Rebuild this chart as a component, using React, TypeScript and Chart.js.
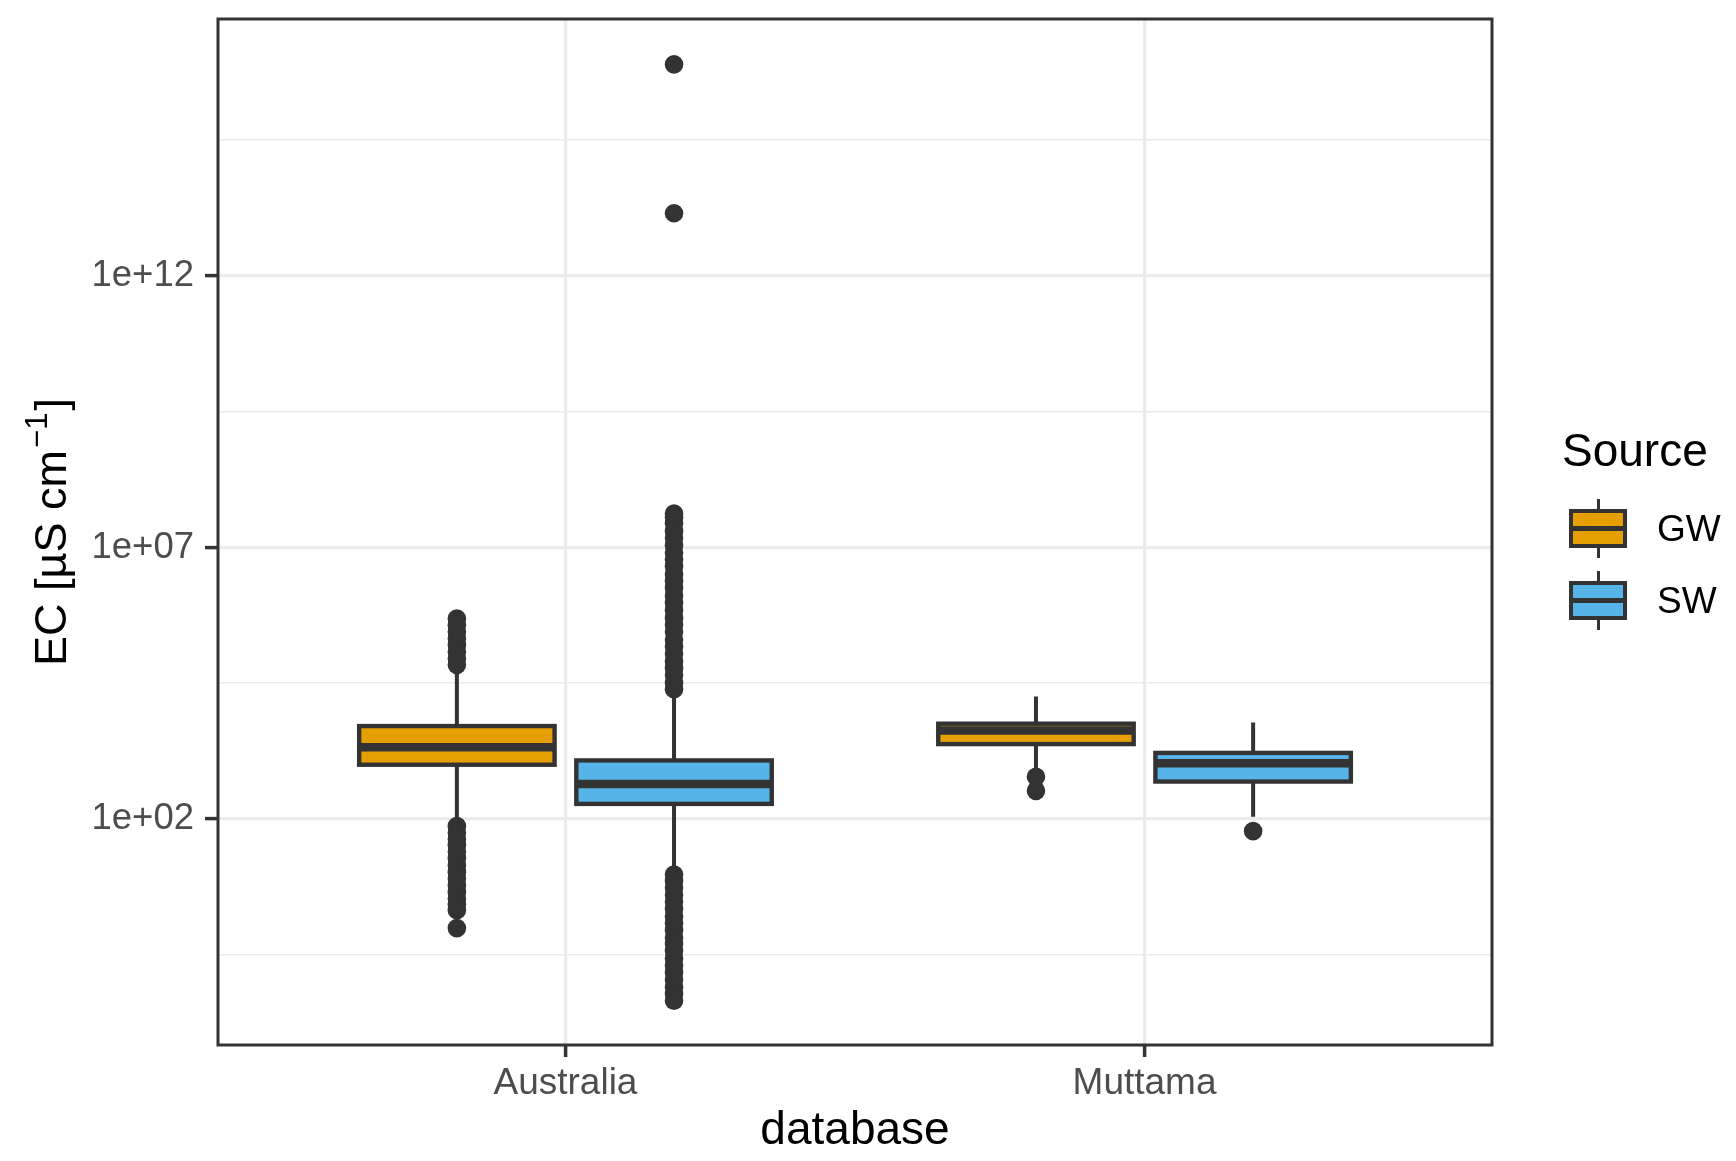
import React, { useEffect, useRef } from 'react';
import { Chart, registerables } from 'chart.js';

Chart.register(...registerables);

const FONT = '"Liberation Sans", Arial, Helvetica, sans-serif';

// ---------------- data ----------------
const categories = ['Australia', 'Muttama'];
const sourceNames = ['GW', 'SW'];
const sourceColors = ['#E69F00', '#56B4E9'];

// GW box statistics (per category)
const gwWhiskerLow = [100, 800];
const gwQ1 = [1000, 2400];
const gwMedian = [2100, 4250];
const gwQ3 = [5150, 5700];
const gwWhiskerHigh = [50000, 18000];

// SW box statistics (per category)
const swWhiskerLow = [12, 110];
const swQ1 = [190, 490];
const swMedian = [440, 1070];
const swQ3 = [1200, 1650];
const swWhiskerHigh = [20000, 6000];

// outliers
const gwOutliersAustralia = [
  69000, 90000, 120000, 160000, 210000, 280000, 370000, 490000,
  74, 56, 43, 33, 25, 19, 14, 10.5, 8, 6, 4.5, 3.4, 2.7, 2.1, 0.98,
];
const gwOutliersMuttama = [600, 330];
const swOutliersAustralia = [
  24500, 32000, 45000, 60000, 80000, 110000, 150000, 200000, 280000, 380000,
  500000, 700000, 950000, 1300000, 1800000, 2400000, 3200000, 4500000, 6000000,
  8000000, 11000000, 15000000, 20000000, 28000000, 36000000, 42000000,
  14300000000000, 7900000000000000,
  9.5, 7.2, 5.4, 4, 3, 2.2, 1.6, 1.2, 0.9, 0.65, 0.5, 0.37, 0.27, 0.2, 0.15,
  0.11, 0.08, 0.06, 0.045,
];
const swOutliersMuttama = [60];

// y axis ticks
const yMajorTicks = [1e2, 1e7, 1e12];
const yMajorLabels = ['1e+02', '1e+07', '1e+12'];
const yMinorTicks = [0.3162, 31623, 3.162e9, 3.162e14];

// ---------------- layout constants ----------------
const DODGE = 0.1875;
const HALF_BOX = 0.16875;

const boxGroups = [
  { color: sourceColors[0], offset: -DODGE, low: gwWhiskerLow, q1: gwQ1, med: gwMedian, q3: gwQ3, high: gwWhiskerHigh },
  { color: sourceColors[1], offset: DODGE, low: swWhiskerLow, q1: swQ1, med: swMedian, q3: swQ3, high: swWhiskerHigh },
];

const outlierGroups = [
  { cat: 0, offset: -DODGE, values: gwOutliersAustralia },
  { cat: 1, offset: -DODGE, values: gwOutliersMuttama },
  { cat: 0, offset: DODGE, values: swOutliersAustralia },
  { cat: 1, offset: DODGE, values: swOutliersMuttama },
];

const boxPlugin = {
  id: 'boxes',
  afterDatasetsDraw(chart: any) {
    const { ctx } = chart;
    const x = chart.scales.x;
    const y = chart.scales.y;
    ctx.save();
    ctx.strokeStyle = '#333333';
    ctx.lineCap = 'butt';
    boxGroups.forEach((g) => {
      categories.forEach((_, i) => {
        const c = i + 1 + g.offset;
        const cx = x.getPixelForValue(c);
        const left = x.getPixelForValue(c - HALF_BOX);
        const right = x.getPixelForValue(c + HALF_BOX);
        const yLow = y.getPixelForValue(g.low[i]);
        const yQ1 = y.getPixelForValue(g.q1[i]);
        const yMed = y.getPixelForValue(g.med[i]);
        const yQ3 = y.getPixelForValue(g.q3[i]);
        const yHigh = y.getPixelForValue(g.high[i]);
        ctx.lineWidth = 4;
        ctx.beginPath();
        ctx.moveTo(cx, yHigh);
        ctx.lineTo(cx, yQ3);
        ctx.moveTo(cx, yQ1);
        ctx.lineTo(cx, yLow);
        ctx.stroke();
        ctx.fillStyle = g.color;
        ctx.fillRect(left, yQ3, right - left, yQ1 - yQ3);
        ctx.lineWidth = 4.4;
        ctx.strokeRect(left, yQ3, right - left, yQ1 - yQ3);
        ctx.lineWidth = 8.5;
        ctx.beginPath();
        ctx.moveTo(left, yMed);
        ctx.lineTo(right, yMed);
        ctx.stroke();
      });
    });
    ctx.restore();
  },
};

const frameAndTitlePlugin = {
  id: 'frameAndTitle',
  afterDraw(chart: any) {
    const { ctx, chartArea } = chart;
    ctx.save();
    ctx.strokeStyle = '#333333';
    ctx.lineWidth = 3;
    ctx.strokeRect(chartArea.left, chartArea.top, chartArea.right - chartArea.left, chartArea.bottom - chartArea.top);

    // y axis title with superscript
    const mainFont = `45px ${FONT}`;
    const supFont = `31px ${FONT}`;
    const part1 = 'EC [µS cm';
    const sup = '\u22121';
    const part3 = ']';
    ctx.font = mainFont;
    const w1 = ctx.measureText(part1).width;
    const w3 = ctx.measureText(part3).width;
    ctx.font = supFont;
    const w2 = ctx.measureText(sup).width + 4;
    const total = w1 + w2 + w3;
    const cy = (chartArea.top + chartArea.bottom) / 2;
    ctx.translate(66, cy + total / 2);
    ctx.rotate(-Math.PI / 2);
    ctx.fillStyle = '#000000';
    ctx.textBaseline = 'alphabetic';
    ctx.textAlign = 'left';
    ctx.font = mainFont;
    ctx.fillText(part1, 0, 0);
    ctx.font = supFont;
    ctx.fillText(sup, w1 + 2, -19);
    ctx.font = mainFont;
    ctx.fillText(part3, w1 + w2, 0);
    ctx.restore();
  },
};

export default function App() {
  const canvasRef = useRef<HTMLCanvasElement>(null);

  useEffect(() => {
    const canvas = canvasRef.current;
    if (!canvas) return;
    const datasets = outlierGroups.map((g) => ({
      type: 'scatter' as const,
      data: g.values.map((v) => ({ x: g.cat + 1 + g.offset, y: v })),
      pointRadius: 9.3,
      pointHoverRadius: 9.3,
      backgroundColor: '#333333',
      borderWidth: 0,
    }));

    const chart = new Chart(canvas, {
      type: 'scatter',
      data: { datasets },
      plugins: [boxPlugin, frameAndTitlePlugin],
      options: {
        animation: false,
        responsive: false,
        devicePixelRatio: 1,
        events: [],
        layout: { padding: { top: 19, right: 244, bottom: 0, left: 0 } },
        plugins: { legend: { display: false }, tooltip: { enabled: false } },
        scales: {
          x: {
            type: 'linear',
            min: 0.4,
            max: 2.6,
            afterBuildTicks: (scale: any) => {
              scale.ticks = categories.map((_, i) => ({ value: i + 1 }));
            },
            afterFit: (scale: any) => {
              scale.height = 116;
              scale.paddingLeft = 0;
              scale.paddingRight = 0;
            },
            ticks: {
              autoSkip: false,
              maxRotation: 0,
              padding: 5,
              color: '#4D4D4D',
              font: { family: FONT, size: 37, lineHeight: 1.2 },
              callback: (v: any) => categories[Math.round(Number(v)) - 1] ?? '',
            },
            grid: {
              color: '#EBEBEB',
              lineWidth: 3.2,
              tickLength: 12,
              tickColor: '#333333',
              tickWidth: 3.5,
            },
            border: { display: false },
            title: {
              display: true,
              text: 'database',
              color: '#000000',
              font: { family: FONT, size: 46, lineHeight: 1 },
              padding: { top: 0, bottom: 7 },
            },
          },
          y: {
            type: 'logarithmic',
            min: 0.0069,
            max: 5.4e16,
            afterBuildTicks: (scale: any) => {
              scale.ticks = [...yMinorTicks, ...yMajorTicks]
                .sort((a, b) => a - b)
                .map((v) => ({ value: v, major: yMajorTicks.includes(v) }));
            },
            afterFit: (scale: any) => {
              scale.width = 218;
              scale.paddingTop = 0;
              scale.paddingBottom = 0;
            },
            ticks: {
              autoSkip: false,
              padding: 11,
              color: '#4D4D4D',
              font: { family: FONT, size: 36.5, lineHeight: 1 },
              callback: (v: any) => {
                const idx = yMajorTicks.indexOf(Number(v));
                return idx >= 0 ? yMajorLabels[idx] : '';
              },
            },
            grid: {
              color: '#EBEBEB',
              lineWidth: (ctx: any) => (yMajorTicks.includes(ctx.tick?.value) ? 3.2 : 1.6),
              tickLength: 13,
              tickColor: (ctx: any) => (yMajorTicks.includes(ctx.tick?.value) ? '#333333' : 'rgba(0,0,0,0)'),
              tickWidth: 3.5,
            },
            border: { display: false },
          },
        },
      },
    } as any);
    return () => chart.destroy();
  }, []);

  const keyBox = (top: number, color: string) => (
    <>
      <div style={{ position: 'absolute', left: 1596.5, top: top - 10, width: 3.5, height: 10, background: '#333333' }} />
      <div
        style={{
          position: 'absolute', left: 1569, top, width: 58, height: 39, boxSizing: 'border-box',
          border: '4px solid #333333', background: color,
        }}
      >
        <div style={{ position: 'absolute', left: 0, right: 0, top: 13, height: 5, background: '#333333' }} />
      </div>
      <div style={{ position: 'absolute', left: 1596.5, top: top + 39, width: 3.5, height: 10, background: '#333333' }} />
    </>
  );

  return (
    <div style={{ position: 'fixed', left: 0, top: 0, width: 1736, height: 1161, background: '#ffffff', fontFamily: FONT }}>
      <canvas ref={canvasRef} width={1736} height={1161} style={{ position: 'absolute', left: 0, top: 0, width: 1736, height: 1161 }} />
      <div style={{ position: 'absolute', left: 1562, top: 427, fontSize: 46, lineHeight: '46px', color: '#000' }}>Source</div>
      {keyBox(509, sourceColors[0])}
      <div style={{ position: 'absolute', left: 1657, top: 510, fontSize: 37, lineHeight: '37px', color: '#000' }}>{sourceNames[0]}</div>
      {keyBox(581, sourceColors[1])}
      <div style={{ position: 'absolute', left: 1657, top: 582, fontSize: 37, lineHeight: '37px', color: '#000' }}>{sourceNames[1]}</div>
    </div>
  );
}
